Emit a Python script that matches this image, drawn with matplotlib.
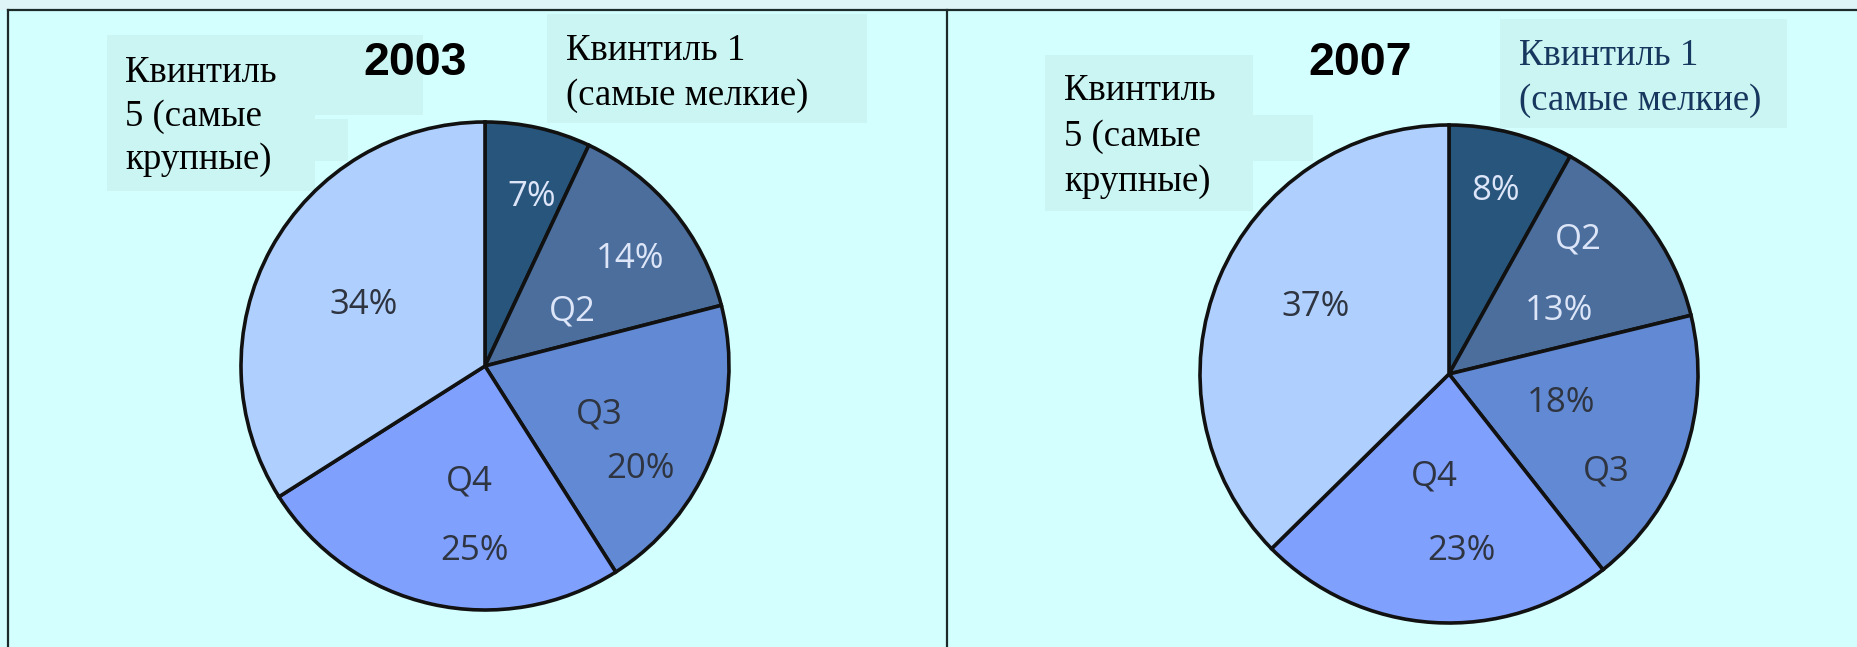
import matplotlib
matplotlib.use("Agg")
import matplotlib.pyplot as plt
from matplotlib.patches import Rectangle

W, H = 1858, 647

# ---- data ----
quintiles = ["Q1", "Q2", "Q3", "Q4", "Q5"]
shares_2003 = [7, 14, 20, 25, 34]
shares_2007 = [8, 13, 18, 23, 37]
years = ["2003", "2007"]
label_q5 = ["Квинтиль", "5 (самые", "крупные)"]
label_q1 = ["Квинтиль 1", "(самые мелкие)"]

colors = ["#28557c", "#4b6e9c", "#6289d3", "#80a0fd", "#afd0fe"]
light_txt = "#dde5f8"
dark_txt = "#2e3440"

fig = plt.figure(figsize=(W / 100, H / 100), dpi=100)
fig.patch.set_facecolor("#d3ffff")
ax = fig.add_axes([0, 0, 1, 1])
ax.set_axis_off()

def fy(y):
    return H - y

# top strip and borders
ax.add_patch(Rectangle((0, fy(10)), W, 10, facecolor="#dff4f7", edgecolor="none", zorder=0))
ax.plot([8, W], [fy(10), fy(10)], color="#1c2a2a", lw=1.6, zorder=1)
ax.plot([8, 8], [fy(10), 0], color="#1c2a2a", lw=1.6, zorder=1)
ax.plot([947, 947], [fy(10), 0], color="#1c2a2a", lw=1.6, zorder=1)

box_col = "#cbf5f2"

def box(x0, y0, x1, y1):
    ax.add_patch(Rectangle((x0, fy(y1)), x1 - x0, y1 - y0, facecolor=box_col,
                           edgecolor="none", zorder=1))

# ---- panel layouts ----
panels = [
    dict(values=shares_2003, center=(485, 366), r=244, year_x=415,
         q5_boxes=[(107, 35, 315, 191), (315, 35, 423, 115), (315, 119, 348, 161)],
         q5_x=125, q5_base=[82, 126, 169],
         q1_box=(547, 14, 867, 123), q1_x=566, q1_base=[60, 105], q1_color="black",
         labels=[("7%", 532, 193, light_txt), ("14%", 630, 256, light_txt),
                 ("Q2", 572, 308, light_txt), ("34%", 364, 302, dark_txt),
                 ("Q3", 599, 411, dark_txt), ("20%", 641, 466, dark_txt),
                 ("Q4", 469, 478, dark_txt), ("25%", 475, 547, dark_txt)]),
    dict(values=shares_2007, center=(1449, 374), r=249, year_x=1360,
         q5_boxes=[(1045, 55, 1253, 211), (1253, 115, 1313, 161)],
         q5_x=1064, q5_base=[100, 146, 191],
         q1_box=(1500, 19, 1787, 128), q1_x=1519, q1_base=[65, 110], q1_color="#17375e",
         labels=[("8%", 1496, 188, light_txt), ("Q2", 1578, 236, light_txt),
                 ("13%", 1559, 307, light_txt), ("37%", 1316, 303, dark_txt),
                 ("18%", 1561, 400, dark_txt), ("Q3", 1606, 468, dark_txt),
                 ("Q4", 1434, 473, dark_txt), ("23%", 1461, 547, dark_txt)]),
]

for year, p in zip(years, panels):
    for b in p["q5_boxes"]:
        box(*b)
    box(*p["q1_box"])
    cx, cy = p["center"]
    ax.pie(p["values"], colors=colors, center=(cx, fy(cy)), radius=p["r"],
           startangle=90, counterclock=False, frame=True,
           wedgeprops=dict(edgecolor="#111111", linewidth=2.6))
    for txt, x, y, c in p["labels"]:
        ax.text(x, fy(y + 12.5), txt, ha="center", va="baseline", color=c,
                fontsize=25, family="Open Sans", zorder=5)
    ax.text(p["year_x"], fy(75), year, ha="center", va="baseline",
            fontsize=33.5, fontweight="bold", family="Liberation Sans", color="black", zorder=5)
    for line, yb in zip(label_q5, p["q5_base"]):
        ax.text(p["q5_x"], fy(yb), line, ha="left", va="baseline", fontsize=26.5,
                family="Liberation Serif", color="black", zorder=5)
    for line, yb in zip(label_q1, p["q1_base"]):
        ax.text(p["q1_x"], fy(yb), line, ha="left", va="baseline", fontsize=26.5,
                family="Liberation Serif", color=p["q1_color"], zorder=5)

ax.set_xlim(0, W)
ax.set_ylim(0, H)
ax.set_aspect("auto")
ax.set_axis_off()

fig.savefig("out.png", dpi=100, facecolor=fig.get_facecolor())
